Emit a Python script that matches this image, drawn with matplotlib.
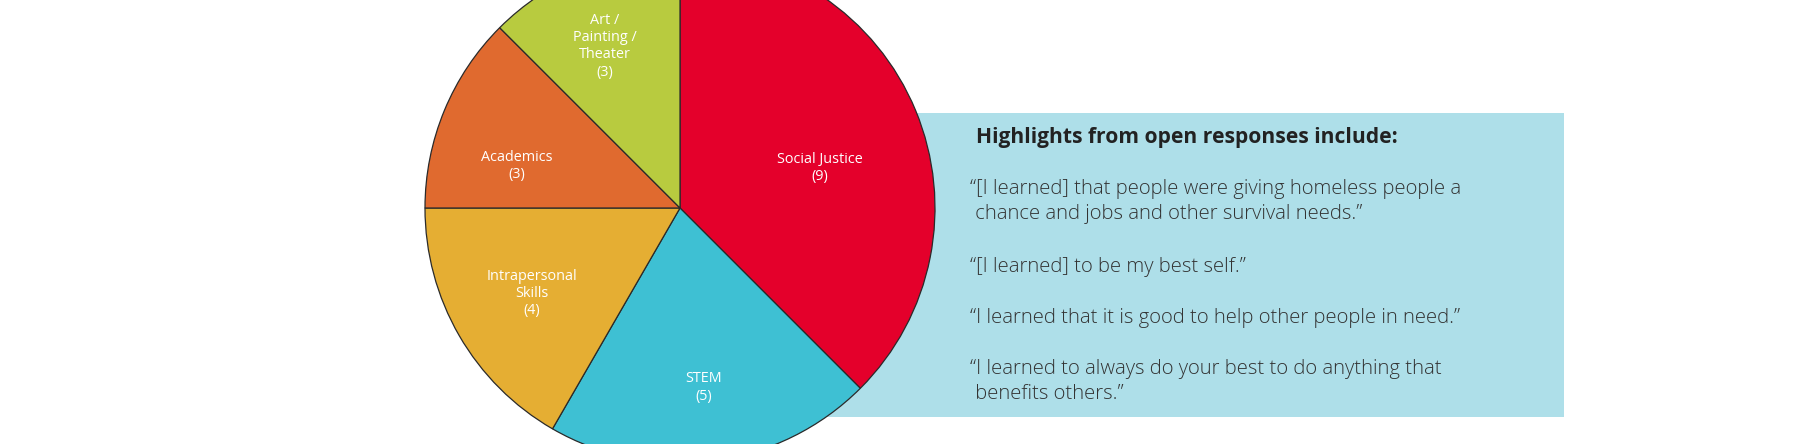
import matplotlib
matplotlib.use("Agg")
import matplotlib.pyplot as plt
from matplotlib.patches import Rectangle
import numpy as np

categories = ["Social Justice", "STEM", "Intrapersonal\nSkills", "Academics", "Art /\nPainting /\nTheater"]
counts = [9, 5, 4, 3, 3]
colors = ["#E4002B", "#3EC0D3", "#E5AE33", "#E06A2F", "#B8CB3F"]
label_radius = [0.57, 0.71, 0.67, 0.66, 0.70]
label_angle_shift = [-6.5, 0, 0, 8, 2.5]

title = "Highlights from open responses include:"
quotes = [
    "\u201c[I learned] that people were giving homeless people a\n chance and jobs and other survival needs.\u201d",
    "\u201c[I learned] to be my best self.\u201d",
    "\u201cI learned that it is good to help other people in need.\u201d",
    "\u201cI learned to always do your best to do anything that\n benefits others.\u201d",
]
quote_y = [187, 265, 316, 367]

W, H = 1794, 444
fig = plt.figure(figsize=(W / 100, H / 100), dpi=100)
ax = fig.add_axes([0, 0, 1, 1])

def Y(y):
    return H - y

# light blue box behind the pie
ax.add_patch(Rectangle((790, Y(416.5)), 1564 - 790, 416.5 - 113, facecolor="#AEDFE9",
                       edgecolor="none", zorder=0))

cx, cy, R = 680, Y(208), 255
wedges, _ = ax.pie(counts, colors=colors, startangle=90, counterclock=False,
                   center=(cx, cy), radius=R, frame=True,
                   wedgeprops=dict(edgecolor="#2a2a2a", linewidth=0.9, zorder=2))
ax.set_xlim(0, W)
ax.set_ylim(0, H)
ax.set_aspect("equal")
ax.axis("off")

for w, lab, n, rf, sh in zip(wedges, categories, counts, label_radius, label_angle_shift):
    ang = np.deg2rad((w.theta1 + w.theta2) / 2 + sh)
    x = cx + rf * R * np.cos(ang)
    y = cy + rf * R * np.sin(ang)
    ax.text(x, y, f"{lab}\n({n})", ha="center", va="center", color="white",
            fontsize=10.4, family="Open Sans", linespacing=1.2, zorder=3)

ax.text(976, Y(137), title, ha="left", va="center", fontsize=15.1,
        family="Open Sans", weight="bold", color="#222222", zorder=3)
for q, y in zip(quotes, quote_y):
    ax.text(970, Y(y - 8), q, ha="left", va="top",
            fontsize=14.6, family="Open Sans", weight="light", color="#333333",
            linespacing=1.36, zorder=3)

fig.savefig("out.png", dpi=100)
